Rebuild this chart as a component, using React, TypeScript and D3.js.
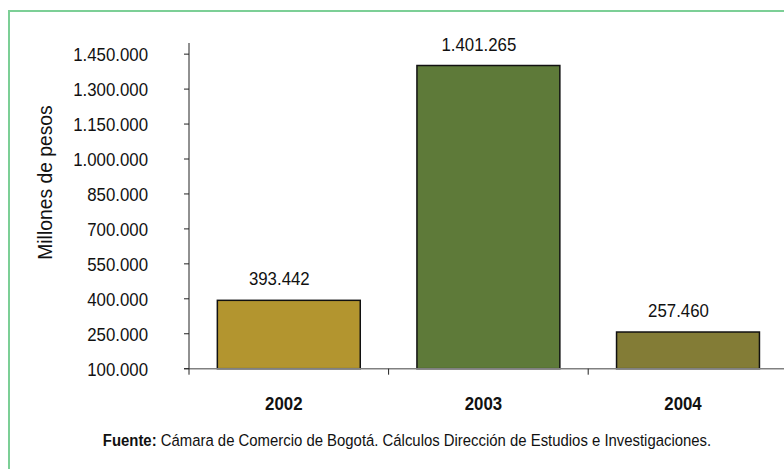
import React from "react";
import * as d3 from "d3";

const categories = ["2002", "2003", "2004"];
const values = [393442, 1401265, 257460];
const barColors = ["#b3952f", "#5e7a39", "#837c36"];
const yTicks = [100000, 250000, 400000, 550000, 700000, 850000, 1000000, 1150000, 1300000, 1450000];
const yLabel = "Millones de pesos";
const sourceBold = "Fuente:";
const sourceText = " Cámara de Comercio de Bogotá. Cálculos Dirección de Estudios e Investigaciones.";

const W = 784;
const H = 469;
const font = "'Liberation Sans', Arial, Helvetica, sans-serif";
const SX = 0.885;

const fmt = (v: number) => {
  const s = Math.round(v).toString();
  return s.replace(/\B(?=(\d{3})+(?!\d))/g, ".");
};

function NText(props: {
  x: number;
  y: number;
  anchor?: string;
  size: number;
  sx?: number;
  bold?: boolean;
  rotate?: number;
  children: React.ReactNode;
}) {
  const { x, y, anchor = "start", size, sx = SX, bold, rotate, children } = props;
  const tr = `translate(${x},${y})${rotate ? ` rotate(${rotate})` : ""} scale(${sx},1)`;
  return (
    <text
      transform={tr}
      textAnchor={anchor}
      fontSize={size}
      fontWeight={bold ? "bold" : "normal"}
      fill="#111"
    >
      {children}
    </text>
  );
}

export default function App() {
  const x0 = 189;
  const y0 = 368.7;
  const x = d3
    .scaleBand<string>()
    .domain(categories)
    .range([x0, x0 + 3 * 199.6])
    .paddingInner(0.284)
    .paddingOuter(0.142);
  const y = d3
    .scaleLinear()
    .domain([100000, 1500000])
    .range([y0, y0 - (1400000 / 150000) * 34.95]);
  const bw = x.bandwidth();
  const step = x.step();
  const axisTop = 43;

  return (
    <svg
      width={W}
      height={H}
      style={{ position: "absolute", left: 0, top: 0, background: "#fff" }}
      fontFamily={font}
    >
      <rect x={0} y={0} width={W} height={H} fill="#fff" />
      <rect x={9} y={11} width={820} height={520} fill="none" stroke="#7ccf96" strokeWidth={2} />

      {categories.map((c, i) => (
        <rect
          key={c}
          x={x(c)}
          y={y(values[i])}
          width={bw}
          height={y0 - y(values[i])}
          fill={barColors[i]}
          stroke="#111"
          strokeWidth={1.5}
        />
      ))}

      <line x1={184} x2={784} y1={y0} y2={y0} stroke="#808080" strokeWidth={1.5} />
      {[0, 1, 2].map((i) => (
        <line
          key={i}
          x1={x0 + i * step}
          x2={x0 + i * step}
          y1={y0}
          y2={y0 + 6}
          stroke="#222"
          strokeWidth={1}
        />
      ))}

      <line x1={x0} x2={x0} y1={axisTop} y2={y0} stroke="#222" strokeWidth={1} />
      {yTicks.map((t) => (
        <g key={t}>
          <line x1={184} x2={x0} y1={y(t)} y2={y(t)} stroke="#222" strokeWidth={1} />
          <NText x={148} y={y(t) + 7} anchor="end" size={19}>
            {fmt(t)}
          </NText>
        </g>
      ))}

      {categories.map((c, i) => (
        <NText
          key={c}
          x={(x(c) as number) + bw / 2 - 9.5}
          y={y(values[i]) - 15}
          anchor="middle"
          size={19}
        >
          {fmt(values[i])}
        </NText>
      ))}

      {categories.map((c) => (
        <NText key={c} x={(x(c) as number) + bw / 2 - 5} y={409.5} anchor="middle" size={19} bold>
          {c}
        </NText>
      ))}

      <NText x={51.5} y={182.5} rotate={-90} anchor="middle" size={21} sx={0.92}>
        {yLabel}
      </NText>

      <text
        transform={`translate(407,445.5) scale(0.877,1)`}
        textAnchor="middle"
        fontSize={17}
        fill="#111"
      >
        <tspan fontWeight="bold">{sourceBold}</tspan>
        <tspan>{sourceText}</tspan>
      </text>
    </svg>
  );
}
